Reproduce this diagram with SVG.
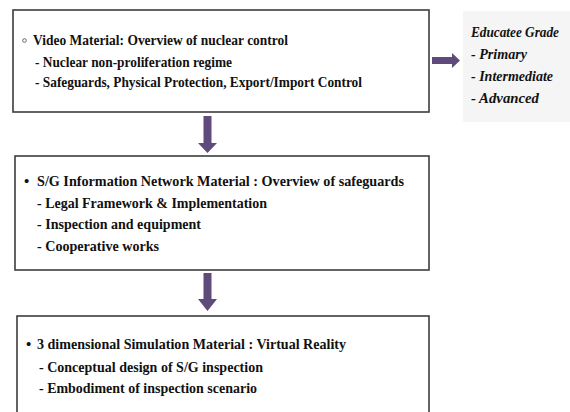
<svg xmlns="http://www.w3.org/2000/svg" width="570" height="412" viewBox="0 0 570 412">
<defs>
<style>
.box{fill:#fff;stroke:#3c3c3c;stroke-width:1.6}
.t{font-family:"Liberation Serif","Times New Roman","DejaVu Serif",serif;font-size:15px;font-weight:bold;fill:#111}
.i{font-family:"Liberation Serif","Times New Roman","DejaVu Serif",serif;font-size:15px;font-weight:bold;font-style:italic;fill:#111}
.arr{fill:#604a7b}
</style>
</defs>
<rect width="570" height="412" fill="#fff"/>
<g id="educatee">
<rect x="463" y="11" width="107" height="111" fill="#f5f5f5"/>
<text class="i" x="471" y="37" textLength="88" lengthAdjust="spacingAndGlyphs">Educatee Grade</text>
<text class="i" x="471" y="59" textLength="56" lengthAdjust="spacingAndGlyphs">- Primary</text>
<text class="i" x="471" y="81" textLength="82" lengthAdjust="spacingAndGlyphs">- Intermediate</text>
<text class="i" x="471" y="103" textLength="68" lengthAdjust="spacingAndGlyphs">- Advanced</text>
</g>
<g id="video">
<rect class="box" x="13" y="10" width="416" height="102"/>
<circle cx="24.5" cy="40.5" r="1.8" fill="none" stroke="#666" stroke-width="1"/>
<text class="t" x="33" y="45" textLength="255" lengthAdjust="spacingAndGlyphs">Video Material: Overview of nuclear control</text>
<text class="t" x="35" y="67" textLength="197" lengthAdjust="spacingAndGlyphs">- Nuclear non-proliferation regime</text>
<text class="t" x="35" y="87" textLength="327" lengthAdjust="spacingAndGlyphs">- Safeguards, Physical Protection, Export/Import Control</text>
</g>
<g id="sg">
<rect class="box" x="15" y="156" width="414" height="114"/>
<text class="t" x="24" y="186">•</text>
<text class="t" x="37" y="186" textLength="367" lengthAdjust="spacingAndGlyphs">S/G Information Network Material : Overview of safeguards</text>
<text class="t" x="37" y="208" textLength="230" lengthAdjust="spacingAndGlyphs">- Legal Framework &amp; Implementation</text>
<text class="t" x="37" y="229" textLength="164" lengthAdjust="spacingAndGlyphs">- Inspection and equipment</text>
<text class="t" x="37" y="251" textLength="122" lengthAdjust="spacingAndGlyphs">- Cooperative works</text>
</g>
<g id="sim">
<rect class="box" x="17" y="316" width="412" height="110"/>
<text class="t" x="26" y="349">•</text>
<text class="t" x="37" y="349" textLength="309" lengthAdjust="spacingAndGlyphs">3 dimensional Simulation Material : Virtual Reality</text>
<text class="t" x="39" y="372" textLength="224" lengthAdjust="spacingAndGlyphs">- Conceptual design of S/G inspection</text>
<text class="t" x="39" y="393" textLength="218" lengthAdjust="spacingAndGlyphs">- Embodiment of inspection scenario</text>
</g>
<g id="connectors">
<path class="arr" d="M432,57 H452 V53 L460,60.5 L452,68 V64 H432 Z"/>
<path class="arr" d="M203.5,116 H211.5 V143 H217 L207.5,153 L198,143 H203.5 Z"/>
<path class="arr" d="M203.5,273 H211.5 V299 H217 L207.5,311 L198,299 H203.5 Z"/>
</g>
</svg>
